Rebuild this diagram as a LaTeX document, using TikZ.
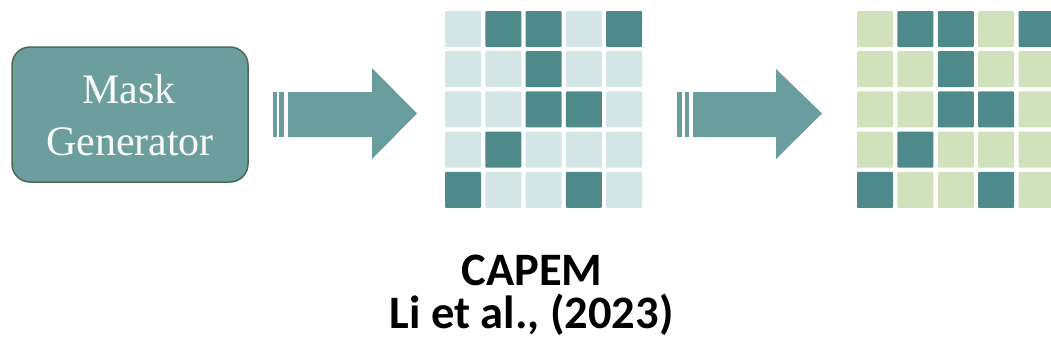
\documentclass[tikz,border=0pt]{standalone}
\usepackage{fontspec}
\setmainfont{Liberation Serif}
\newfontfamily\labelfont{Carlito}
\definecolor{boxFill}{HTML}{6B9E9D}
\definecolor{boxEdge}{HTML}{4B6B52}
\definecolor{arrowFill}{HTML}{6A9D9D}
\definecolor{cellDark}{HTML}{4F8A8B}
\definecolor{cellLightA}{HTML}{D4E5E5}
\definecolor{cellLightB}{HTML}{D0E1BB}
\tikzset{
  genbox/.style={draw=boxEdge, line width=1.5pt, fill=boxFill, rounded corners=18pt,
    minimum width=236pt, minimum height=135pt},
  genlabel/.style={text=white!96!boxFill, anchor=base, font=\fontsize{42}{52}\selectfont},
  blockarrow/.style={fill=arrowFill},
  caption/.style={font=\labelfont\bfseries\fontsize{46.5}{46}\selectfont, anchor=base}
}
\begin{document}
\begin{tikzpicture}[x=1pt,y=-1pt]
\useasboundingbox (0,0) rectangle (1051,351);

% generator block
\node[genbox] (gen) at (130,114.5) {};
\node[genlabel] (genA) at (129,103) {Mask};
\node[genlabel] (genB) at (130,155) {Generator};

% striped block arrows
\fill[blockarrow] (273,92) rectangle (277,137);
\fill[blockarrow] (279,92) rectangle (284,137);
\fill[blockarrow] (288,92) -- (372,92) -- (372,68) -- (417,113.5) -- (372,159) -- (372,137) -- (288,137) -- cycle;

\fill[blockarrow] (677,92) rectangle (682,137);
\fill[blockarrow] (685,92) rectangle (689,137);
\fill[blockarrow] (693,92) -- (776,92) -- (776,69) -- (822,113.5) -- (776,159) -- (776,137) -- (693,137) -- cycle;

% 5x5 mask grids (1 = masked cell)
\foreach \gx/\gp/\gc in {445/40.3/cellLightA, 857/40.4/cellLightB} {
  \foreach \row [count=\r from 0] in {{0,1,1,0,1},{0,0,1,0,0},{0,0,1,1,0},{0,1,0,0,0},{1,0,0,1,0}} {
    \foreach \v [count=\c from 0] in \row {
      \ifnum\v=1 \def\cc{cellDark}\else\edef\cc{\gc}\fi
      \fill[fill=\cc, rounded corners=1pt] ({\gx+\c*\gp},{11+\r*40.2}) rectangle +(36,36);
    }
  }
}

% caption
\node[caption] (title) at (532,285) {CAPEM};
\node[caption] (cite) at (531.5,328) {Li et al., (2023)};
\end{tikzpicture}
\end{document}
